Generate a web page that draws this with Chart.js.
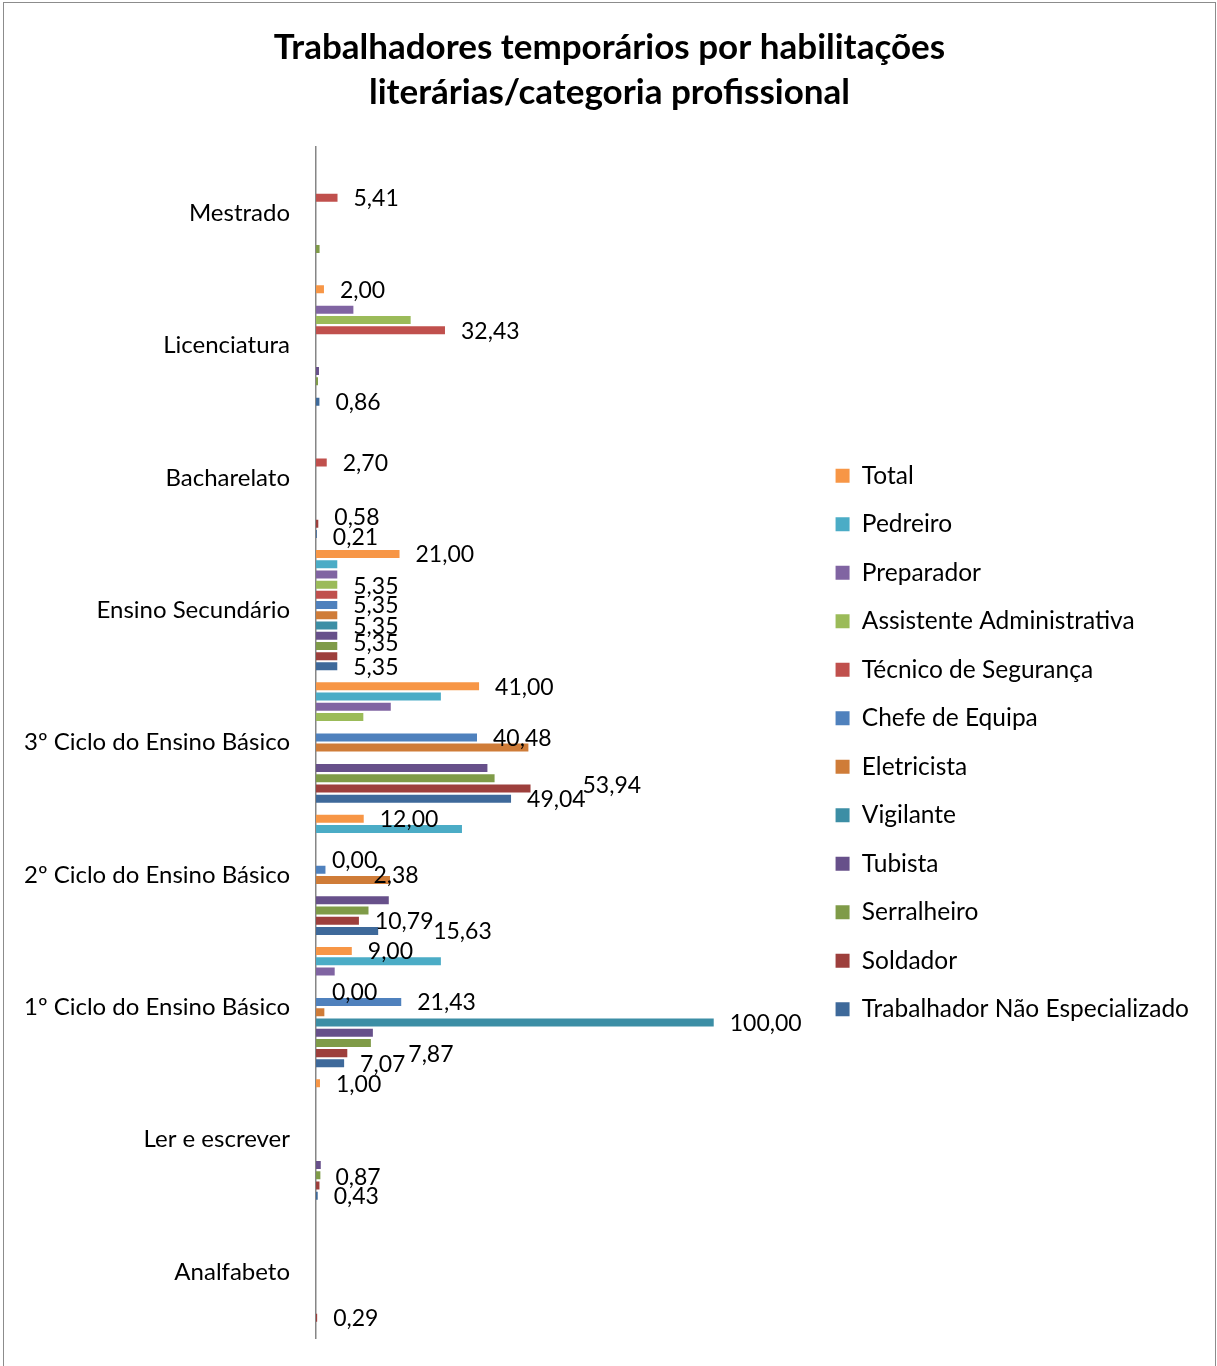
<!DOCTYPE html>
<html>
<head>
<meta charset="utf-8">
<script src="https://cdn.jsdelivr.net/npm/chart.js@4"></script>
<style>
  body { margin: 0; background: #fff; }
  #frame {
    position: absolute;
    left: 3px;
    top: 2px;
    width: 1211px;
    height: 1363px;
    border: 1px solid #8c8c8c;
    background: #fff;
  }
  canvas { display: block; }
</style>
</head>
<body>
<div id="frame"><canvas id="chart" width="1211" height="1363"></canvas></div>
<script>
// categories (top to bottom)
const categories = [
  'Mestrado',
  'Licenciatura',
  'Bacharelato',
  'Ensino Secundário',
  '3º Ciclo do Ensino Básico',
  '2º Ciclo do Ensino Básico',
  '1º Ciclo do Ensino Básico',
  'Ler e escrever',
  'Analfabeto',
]

// series values, same order as categories (null = empty cell)
const total = [null, 2.0, null, 21.0, 41.0, 12.0, 9.0, 1.0, null]
const pedreiro = [null, null, null, 5.35, 31.4, 36.7, 31.4, null, null]
const preparador = [null, 9.4, null, 5.35, 18.8, null, 4.7, null, null]
const assistenteAdministrativa = [null, 23.8, null, 5.35, 11.9, null, null, null, null]
const tecnicoSeguranca = [5.41, 32.43, 2.7, 5.35, null, 0.0, 0.0, null, null]
const chefeEquipa = [null, null, null, 5.35, 40.48, 2.38, 21.43, null, null]
const eletricista = [null, null, null, 5.35, 53.4, 18.6, 2.1, null, null]
const vigilante = [null, null, null, 5.35, null, null, 100.0, null, null]
const tubista = [null, 0.75, null, 5.35, 43.1, 18.3, 14.3, 1.2, null]
const serralheiro = [0.9, 0.5, null, 5.35, 44.9, 13.2, 13.8, 1.1, null]
const soldador = [null, null, 0.58, 5.35, 53.94, 10.79, 7.87, 0.87, 0.29]
const trabalhadorNaoEspecializado = [null, 0.86, 0.21, 5.35, 49.04, 15.63, 7.07, 0.43, null]

const seriesNames = [
  'Total',
  'Pedreiro',
  'Preparador',
  'Assistente Administrativa',
  'Técnico de Segurança',
  'Chefe de Equipa',
  'Eletricista',
  'Vigilante',
  'Tubista',
  'Serralheiro',
  'Soldador',
  'Trabalhador Não Especializado',
]
const seriesValues = [
  total,
  pedreiro,
  preparador,
  assistenteAdministrativa,
  tecnicoSeguranca,
  chefeEquipa,
  eletricista,
  vigilante,
  tubista,
  serralheiro,
  soldador,
  trabalhadorNaoEspecializado,
]
const seriesColors = [
  '#F79646', '#4BACC6', '#8064A2', '#9BBB59', '#C0504D', '#4F81BD',
  '#CF7C38', '#3C8EA5', '#67508A', '#7F9B48', '#9D3F3C', '#3E699A',
]

// series that carry data labels
const labelledSeries = ['Total', 'Técnico de Segurança', 'Chefe de Equipa', 'Vigilante', 'Soldador', 'Trabalhador Não Especializado']

// labels that were dragged away from their default place: 'series|category' -> [dx, dy]
const labelNudges = {
  'Soldador|Bacharelato': [0, -7],
  'Trabalhador Não Especializado|Bacharelato': [0, 3],
  'Técnico de Segurança|Ensino Secundário': [0, -9],
  'Soldador|Ensino Secundário': [0, -14],
  'Soldador|3º Ciclo do Ensino Básico': [36, -4],
  'Chefe de Equipa|2º Ciclo do Ensino Básico': [32, 5],
  'Trabalhador Não Especializado|2º Ciclo do Ensino Básico': [39, 0],
  'Soldador|1º Ciclo do Ensino Básico': [45, 0],
  'Soldador|Ler e escrever': [0, -9],
}

const FONT = 'Lato, "Open Sans", sans-serif'

const dataLabels = {
  id: 'dataLabels',
  afterDatasetsDraw(chart) {
    const ctx = chart.ctx
    ctx.save()
    ctx.font = '23px ' + FONT
    ctx.fillStyle = '#000'
    ctx.textAlign = 'left'
    ctx.textBaseline = 'middle'
    chart.data.datasets.forEach((ds, di) => {
      if (!labelledSeries.includes(ds.label)) return
      const meta = chart.getDatasetMeta(di)
      ds.data.forEach((v, i) => {
        if (v === null || v === undefined) return
        const el = meta.data[i]
        const nudge = labelNudges[ds.label + '|' + categories[i]] || [0, 0]
        const text = v.toFixed(2).replace('.', ',')
        ctx.fillText(text, el.x + 16 + nudge[0], el.y + 1 + nudge[1])
      })
    })
    ctx.restore()
  },
}

const ctx = document.getElementById('chart')

new Chart(ctx, {
  type: 'bar',
  data: {
    labels: categories,
    datasets: seriesNames.map((name, i) => ({
      label: name,
      data: seriesValues[i],
      backgroundColor: seriesColors[i],
      borderWidth: 0,
      categoryPercentage: 0.926,
      barPercentage: 0.784,
    })),
  },
  options: {
    indexAxis: 'y',
    responsive: false,
    animation: false,
    layout: {
      padding: { top: 0, bottom: 28, left: 16, right: 16 },
    },
    scales: {
      x: {
        display: false,
        min: 0,
        max: 124.6,
      },
      y: {
        afterFit(scale) {
          scale.width = 296
        },
        // tick length gives the gap between labels and axis; marks are not drawn
        grid: { display: false, drawTicks: true, tickLength: 26 },
        border: { display: true, color: '#868686', width: 1.5 },
        ticks: {
          color: '#000',
          padding: 0,
          font: { family: FONT, size: 24 },
        },
      },
    },
    plugins: {
      title: {
        display: true,
        text: ['Trabalhadores temporários por habilitações', 'literárias/categoria profissional'],
        color: '#000',
        font: { family: FONT, size: 35, weight: 'bold', lineHeight: 1.286 },
        padding: { top: 22, bottom: 32 },
      },
      legend: {
        display: true,
        position: 'right',
        align: 'center',
        fullSize: false,
        maxWidth: 460,
        labels: {
          color: '#000',
          boxWidth: 14,
          boxHeight: 14,
          padding: 24,
          font: { family: FONT, size: 24.5 },
        },
      },
      tooltip: { enabled: false },
    },
  },
  plugins: [dataLabels],
})
</script>
</body>
</html>
